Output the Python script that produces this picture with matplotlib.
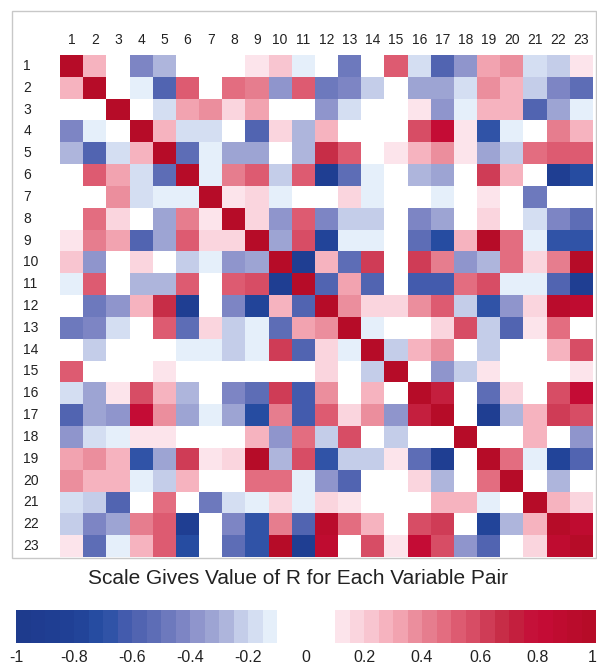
import matplotlib
matplotlib.use("Agg")
import matplotlib.pyplot as plt
import numpy as np
from matplotlib.colors import LinearSegmentedColormap, ListedColormap, BoundaryNorm
from matplotlib.patches import Rectangle

plt.rcParams['font.family'] = ['Liberation Sans', 'DejaVu Sans']

labels = [str(i) for i in range(1, 24)]

# upper triangle of R, row i holds columns i+1 .. 23
upper = [
    [0.25, 0, -0.45, -0.3, 0, 0, 0, 0.12, 0.22, -0.12, 0, -0.5, 0, 0.5, -0.18, -0.6, -0.4, 0.3, 0.35, -0.18, -0.25, 0.1],
    [0, -0.15, -0.6, 0.5, 0, 0.45, 0.4, -0.4, 0.5, -0.5, -0.45, -0.25, 0, -0.35, -0.35, -0.18, 0.38, 0.25, -0.22, -0.45, -0.55],
    [0, -0.18, 0.3, 0.35, 0.15, 0.3, 0, 0, -0.38, -0.18, 0, 0, 0.1, -0.38, -0.12, 0.28, 0.28, -0.6, -0.35, -0.12],
    [0.25, -0.18, -0.18, 0, -0.6, 0.18, -0.3, 0.25, 0, 0, 0, 0.55, 0.8, 0.1, -0.7, -0.12, 0, 0.4, 0.28],
    [-0.55, -0.12, -0.35, -0.35, 0, -0.3, 0.65, 0.5, 0, 0.1, 0.25, 0.38, 0.1, -0.32, -0.22, 0.45, 0.5, 0.5],
    [-0.12, 0.4, 0.5, -0.25, 0.5, -0.9, -0.55, -0.12, 0, -0.3, -0.35, 0, 0.62, 0.25, 0, -0.9, -0.72],
    [0.1, 0.18, -0.12, 0, 0, 0.15, -0.12, 0, 0, -0.12, 0, 0.1, 0, -0.5, 0, 0],
    [0.18, -0.4, 0.5, -0.45, -0.25, -0.22, 0, -0.45, -0.32, 0, 0.15, 0, -0.18, -0.45, -0.55],
    [-0.35, 0.55, -0.8, -0.12, -0.15, 0, -0.55, -0.72, 0.25, 0.95, 0.45, -0.15, -0.7, -0.7],
    [-0.9, 0.28, -0.55, 0.62, 0, 0.62, 0.4, -0.38, -0.28, 0.45, 0.15, 0.4, 0.95],
    [-0.6, 0.3, -0.6, 0, -0.65, -0.62, 0.45, 0.55, -0.12, -0.12, -0.6, -0.88],
    [0.38, 0.18, 0.15, 0.38, 0.52, -0.25, -0.7, -0.4, 0.18, 0.9, 0.85],
    [-0.12, 0, 0, 0.18, 0.55, -0.25, -0.6, 0.1, 0.48, 0],
    [-0.22, 0.25, 0.38, 0, -0.25, 0, 0, 0.25, 0.55],
    [0, -0.4, -0.25, 0.1, 0, 0, 0, 0.1],
    [0.7, 0, -0.55, 0.18, 0, 0.55, 0.8],
    [0, -0.88, -0.3, 0.25, 0.62, 0.55],
    [0, 0, 0.28, 0, -0.38],
    [0.45, -0.12, -0.8, -0.6],
    [0, -0.28, 0],
    [0.25, 0.15],
    [0.88],
]

tick_vals = [-1, -0.8, -0.6, -0.4, -0.2, 0, 0.2, 0.4, 0.6, 0.8, 1]
tick_text = ["-1", "-0.8", "-0.6", "-0.4", "-0.2", "0", "0.2", "0.4", "0.6", "0.8", "1"]

n = len(labels)
R = np.eye(n)
for i, row in enumerate(upper):
    for k, v in enumerate(row):
        R[i, i + 1 + k] = v
        R[i + 1 + k, i] = v

# stepped blue-white-red scale
anchors = [
    (-1.0, (30, 58, 140)), (-0.8, (32, 65, 150)), (-0.7, (40, 80, 165)),
    (-0.6, (75, 95, 175)), (-0.5, (100, 115, 185)), (-0.4, (135, 140, 200)),
    (-0.3, (165, 172, 215)), (-0.2, (205, 215, 238)), (-0.1, (235, 246, 253)),
    (0.0, (255, 255, 255)),
    (0.1, (253, 238, 243)), (0.2, (249, 205, 215)), (0.3, (245, 172, 185)),
    (0.4, (232, 135, 150)), (0.5, (225, 100, 120)), (0.6, (212, 70, 95)),
    (0.7, (195, 38, 65)), (0.8, (198, 12, 55)), (1.0, (180, 12, 38)),
]
base = LinearSegmentedColormap.from_list(
    "rb", [((v + 1) / 2, tuple(c / 255 for c in col)) for v, col in anchors])
bounds = np.round(np.arange(-1, 1.0001, 0.05), 2)
centers = (bounds[:-1] + bounds[1:]) / 2
cols = [(1, 1, 1, 1) if abs(c) < 0.1 else base((c + 1) / 2) for c in centers]
cmap = ListedColormap(cols)
norm = BoundaryNorm(bounds, cmap.N)

W, H = 597, 665
fig = plt.figure(figsize=(W / 100, H / 100), dpi=100)

fig.patches.append(Rectangle((12 / W, 1 - 558 / H), 584 / W, 547 / H,
                             transform=fig.transFigure, fill=False,
                             edgecolor="#c8c8c8", linewidth=1))

ax = fig.add_axes([60 / W, 1 - 557 / H, 533 / W, 502 / H])
ax.pcolormesh(np.arange(n + 1), np.arange(n + 1), R, cmap=cmap, norm=norm)
ax.set_xlim(0, n)
ax.set_ylim(n, 0)
ax.set_xticks([])
ax.set_yticks([])
for s in ax.spines.values():
    s.set_visible(False)

for i, lab in enumerate(labels):
    ax.text(i + 0.5, -0.7, lab, ha="center", va="center", fontsize=10,
            color="#222222", clip_on=False)
    ax.text(-1.58, i + 0.5, lab, ha="left", va="center", fontsize=10,
            color="#222222", clip_on=False)

fig.text(0.5, 1 - 578 / H, "Scale Gives Value of R for Each Variable Pair",
         ha="center", va="center", fontsize=15, color="#222222")

cax = fig.add_axes([16 / W, 1 - 643 / H, 580 / W, 33 / H])
cax.pcolormesh(bounds, [0, 1], centers.reshape(1, -1), cmap=cmap, norm=norm)
cax.set_xlim(-1, 1)
cax.set_ylim(0, 1)
cax.set_xticks([])
cax.set_yticks([])
for v, t in zip(tick_vals, tick_text):
    ha = "right" if v == 1 else "center"
    xv = 1.003 if v == 1 else v
    cax.text(xv, -0.44, t, ha=ha, va="center", fontsize=11.5,
             color="#222222", clip_on=False)
for s in cax.spines.values():
    s.set_visible(False)

fig.savefig("out.png", dpi=100)
